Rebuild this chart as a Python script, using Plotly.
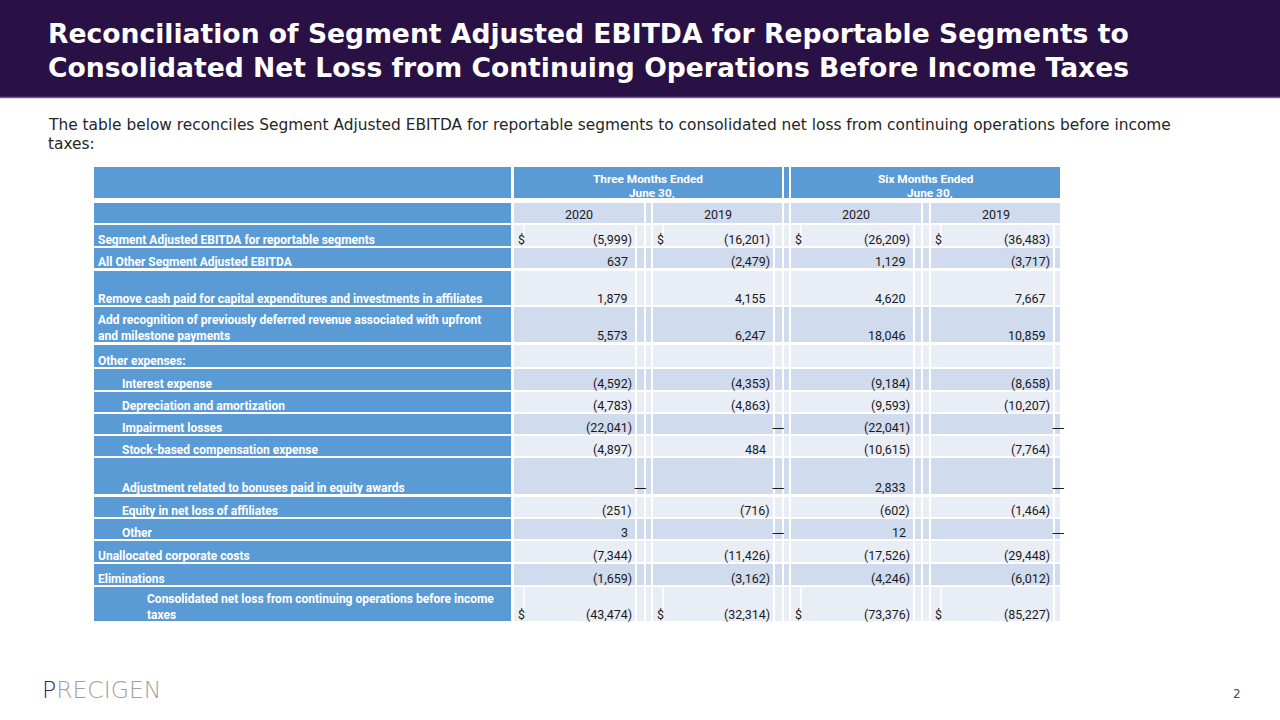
import plotly.graph_objects as go

# ---------------- data ----------------
row_labels = [
    "Segment Adjusted EBITDA for reportable segments",
    "All Other Segment Adjusted EBITDA",
    "Remove cash paid for capital expenditures and investments in affiliates",
    "Add recognition of previously deferred revenue associated with upfront<br>and milestone payments",
    "Other expenses:",
    "Interest expense",
    "Depreciation and amortization",
    "Impairment losses",
    "Stock-based compensation expense",
    "Adjustment related to bonuses paid in equity awards",
    "Equity in net loss of affiliates",
    "Other",
    "Unallocated corporate costs",
    "Eliminations",
    "Consolidated net loss from continuing operations before income<br>taxes",
]
row_indent = [0, 0, 0, 0, 0, 1, 1, 1, 1, 1, 1, 1, 0, 0, 2]
row_dollar = [True, False, False, False, False, False, False, False, False, False, False, False, False, False, True]

three_2020 = [-5999, 637, 1879, 5573, None, -4592, -4783, -22041, -4897, 0, -251, 3, -7344, -1659, -43474]
three_2019 = [-16201, -2479, 4155, 6247, None, -4353, -4863, 0, 484, 0, -716, 0, -11426, -3162, -32314]
six_2020 = [-26209, 1129, 4620, 18046, None, -9184, -9593, -22041, -10615, 2833, -602, 12, -17526, -4246, -73376]
six_2019 = [-36483, -3717, 7667, 10859, None, -8658, -10207, 0, -7764, 0, -1464, 0, -29448, -6012, -85227]

period_headers = [("Three Months Ended", "June 30,"), ("Six Months Ended", "June 30,")]
year_headers = ["2020", "2019", "2020", "2019"]

title_lines = [
    "Reconciliation of Segment Adjusted EBITDA for Reportable Segments to",
    "Consolidated Net Loss from Continuing Operations Before Income Taxes",
]
subtitle_lines = [
    "The table below reconciles Segment Adjusted EBITDA for reportable segments to consolidated net loss from continuing operations before income",
    "taxes:",
]

# ---------------- layout geometry ----------------
W, H = 1280, 720
LABEL_X0, LABEL_X1 = 94, 511
grp_start = [514, 653, 791, 931]
grp_vend = [635, 773, 913, 1053]
grp_gap1 = [(637, 644), (775, 782), (915, 921), (1055, 1060)]
grp_gap2 = [(646, 651), (784, 789), (923, 929), None]
HDR1 = (167, 198)
HDR2 = (203, 223)
row_bounds = [(225, 246), (248, 268), (271, 305), (307, 342), (345, 367),
              (369, 390), (392, 412), (414, 434), (436, 456), (458, 494),
              (497, 517), (519, 539), (541, 562), (564, 585), (587, 621)]

BLUE = "#5B9BD5"
DARK = "#D0DBEE"
LIGHT = "#E9EDF6"
PURPLE = "#2A1145"
TXT = "#1a1a1a"
FONT = "Roboto"

shapes = []
annotations = []


def rect(x0, y0, x1, y1, color):
    shapes.append(dict(type="rect", xref="x", yref="y", x0=x0, x1=x1, y0=y0, y1=y1,
                       fillcolor=color, line=dict(width=0), layer="below"))


def fmt(v):
    if v is None:
        return ""
    if v == 0:
        return "—"
    if v < 0:
        return "({:,})".format(-v)
    return "{:,}".format(v)


# title bar
rect(0, 0, W, 97, PURPLE)
shapes.append(dict(type="line", xref="x", yref="y", x0=0, x1=W, y0=97.5, y1=97.5,
                   line=dict(color="#6E5E8E", width=1.5)))
for i, t in enumerate(title_lines):
    annotations.append(dict(x=46, y=33 + i * 34, xref="x", yref="y", text=t, showarrow=False,
                            xanchor="left", yanchor="middle",
                            font=dict(family="DejaVu Sans", size=26.6, color="white", weight="bold")))
for i, t in enumerate(subtitle_lines):
    annotations.append(dict(x=46, y=125 + i * 19, xref="x", yref="y", text=t, showarrow=False,
                            xanchor="left", yanchor="middle",
                            font=dict(family="DejaVu Sans", size=15.4, color="#262626")))

# header row 1
rect(LABEL_X0, HDR1[0], LABEL_X1, HDR1[1], BLUE)
rect(grp_start[0], HDR1[0], grp_gap1[1][1], HDR1[1], BLUE)
rect(grp_gap2[1][0], HDR1[0], grp_gap2[1][1], HDR1[1], BLUE)
rect(grp_start[2], HDR1[0], grp_gap1[3][1], HDR1[1], BLUE)
for k, (l1, l2) in enumerate(period_headers):
    xc = (grp_start[2 * k] + grp_gap1[2 * k + 1][1]) / 2
    annotations.append(dict(x=xc, y=178.5, xref="x", yref="y", text=l1, showarrow=False,
                            xanchor="center", yanchor="middle", borderpad=0,
                            font=dict(family=FONT, size=11.8, color="white", weight="bold")))
    annotations.append(dict(x=xc + 4, y=192.5, xref="x", yref="y", text=l2, showarrow=False,
                            xanchor="center", yanchor="middle", borderpad=0,
                            font=dict(family=FONT, size=11.8, color="white", weight="bold")))

# header row 2 (years)
rect(LABEL_X0, HDR2[0], LABEL_X1, HDR2[1], BLUE)
for g in range(4):
    rect(grp_start[g], HDR2[0], grp_gap1[g][1], HDR2[1], DARK)
    if grp_gap2[g] is not None:
        rect(grp_gap2[g][0], HDR2[0], grp_gap2[g][1], HDR2[1], DARK)
    xc = (grp_start[g] + grp_gap1[g][1]) / 2
    annotations.append(dict(x=xc, y=(HDR2[0] + HDR2[1]) / 2 + 1, xref="x", yref="y", text=year_headers[g],
                            showarrow=False, xanchor="center", yanchor="middle",
                            font=dict(family=FONT, size=12.5, color=TXT)))

# body rows
columns = [three_2020, three_2019, six_2020, six_2019]
indent_x = [96, 120, 145]
for r, (y0, y1) in enumerate(row_bounds):
    fill = LIGHT if r % 2 == 0 else DARK
    rect(LABEL_X0, y0, LABEL_X1, y1, BLUE)
    annotations.append(dict(x=indent_x[row_indent[r]], y=y1 + 3, xref="x", yref="y", text=row_labels[r],
                            showarrow=False, xanchor="left", yanchor="bottom", align="left",
                            font=dict(family=FONT, size=12, color="white", weight="bold")))
    for g in range(4):
        rect(grp_start[g], y0, grp_vend[g], y1, fill)
        rect(grp_gap1[g][0], y0, grp_gap1[g][1], y1, fill)
        if grp_gap2[g] is not None:
            rect(grp_gap2[g][0], y0, grp_gap2[g][1], y1, fill)
        if row_dollar[r]:
            shapes.append(dict(type="line", xref="x", yref="y", x0=grp_start[g] + 10, x1=grp_start[g] + 10,
                               y0=y0, y1=y1, line=dict(color="white", width=1.5)))
            annotations.append(dict(x=grp_start[g] + 2, y=y1 + 3, xref="x", yref="y", text="$",
                                    showarrow=False, xanchor="left", yanchor="bottom",
                                    font=dict(family=FONT, size=12.5, color=TXT)))
        v = columns[g][r]
        s = fmt(v)
        if s == "":
            continue
        fam = FONT
        if v == 0:
            xa, xx, fam = "center", grp_vend[g] + 5, "DejaVu Sans"
        elif v < 0:
            xa, xx = "right", grp_vend[g] - 1
        else:
            xa, xx = "right", grp_vend[g] - 5
        annotations.append(dict(x=xx, y=y1 + 3, xref="x", yref="y", text=s, showarrow=False,
                                xanchor=xa, yanchor="bottom",
                                font=dict(family=fam, size=12.5, color=TXT)))

# logo & page number
annotations.append(dict(x=40, y=690, xref="x", yref="y",
                        text="<span style='color:#3B2260'>P</span>RECIGEN", showarrow=False,
                        xanchor="left", yanchor="middle",
                        font=dict(family="DejaVu Sans", size=23.5, color="#A0A0A0", weight=300)))
annotations.append(dict(x=1237, y=694, xref="x", yref="y", text="2", showarrow=False,
                        xanchor="center", yanchor="middle",
                        font=dict(family="DejaVu Sans", size=12, color="#4A4A6A")))

fig = go.Figure()
fig.add_trace(go.Scatter(x=[0, W], y=[0, H], mode="markers", marker=dict(opacity=0), hoverinfo="skip",
                         showlegend=False))
fig.update_layout(
    width=W, height=H, margin=dict(l=0, r=0, t=0, b=0),
    paper_bgcolor="white", plot_bgcolor="white",
    xaxis=dict(range=[0, W], visible=False, fixedrange=True),
    yaxis=dict(range=[H, 0], visible=False, fixedrange=True),
    shapes=shapes, annotations=annotations, showlegend=False,
)
fig.write_html("out.html", config={"displayModeBar": False},
               post_script="document.body.style.margin='0';document.body.style.overflow='hidden';")
